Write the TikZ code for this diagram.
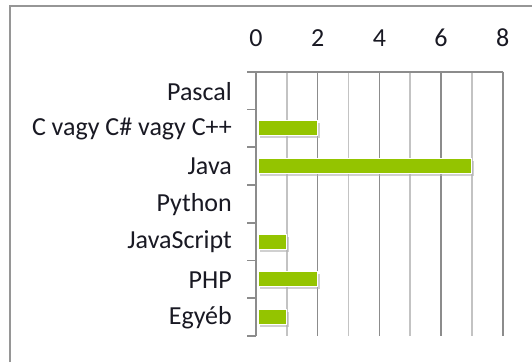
\documentclass[tikz,border=0pt]{standalone}
\usepackage{fontspec}
\setmainfont{Carlito}
\usetikzlibrary{shadows}
\definecolor{bargreen}{RGB}{148,196,0}
\definecolor{framegray}{RGB}{150,150,150}
\definecolor{majorgray}{RGB}{140,140,140}
\definecolor{minorgray}{RGB}{195,195,195}
\definecolor{txt}{RGB}{25,25,35}
\tikzset{
  catlabel/.style={anchor=east,inner sep=0pt,text=txt,font=\fontsize{26bp}{30bp}\selectfont},
  ticklabel/.style={anchor=center,inner sep=0pt,text=txt,font=\fontsize{26bp}{30bp}\selectfont},
  majorline/.style={draw=majorgray,line width=1.6bp},
  minorline/.style={draw=minorgray,line width=1.6bp},
  axisline/.style={draw=majorgray,line width=1.6bp},
  barbox/.style={fill=bargreen,draw=white,line width=1.2bp,
    drop shadow={shadow xshift=2bp,shadow yshift=-2.5bp,fill=black!30,opacity=0.6}},
}
\begin{document}
\begin{tikzpicture}[x=1bp,y=-1bp]
\useasboundingbox (0,0) rectangle (532,362);
\fill[white] (0,0) rectangle (532,362);
% frame (top and left)
\draw[framegray,line width=2.6bp] (10,362) -- (10,6) -- (532,6);
\def\xo{256}
\def\un{30.84}
\def\ytop{71.7}
\def\ybot{336}
\def\cs{37.76}
% gridlines
\foreach \k in {1,3,5,7}
  \draw[minorline] ({\xo+\k*\un},\ytop) -- ({\xo+\k*\un},\ybot);
\foreach \k in {2,4,6,8}
  \draw[majorline] ({\xo+\k*\un},\ytop) -- ({\xo+\k*\un},\ybot);
% axes
\draw[axisline] (247,\ytop) -- ({\xo+8*\un},\ytop);
\draw[axisline] (\xo,\ytop) -- (\xo,\ybot);
\foreach \i in {1,...,7}
  \draw[axisline] (247,{\ytop+\i*\cs}) -- (\xo,{\ytop+\i*\cs});
% tick labels
\foreach \k/\nm in {0/ta,2/tb,4/tc,6/td,8/te}
  \node[ticklabel] (\nm) at ({\xo+\k*\un},38) {\k};
% category labels
\foreach \i/\t/\nm in {0/Pascal/la,1/C vagy C\# vagy C++/lb,2/Java/lc,3/Python/ld,4/JavaScript/le,5/PHP/lf,6/Egyéb/lg}
  \node[catlabel] (\nm) at (232,{\ytop+(\i+0.5)*\cs+0.5}) {\t};
% bars
\foreach \i/\v in {1/2,2/7,4/1,5/2,6/1}
  \path[barbox] (258,{\ytop+(\i+0.5)*\cs-7.5}) rectangle ({\xo+\v*\un},{\ytop+(\i+0.5)*\cs+7.5});
\end{tikzpicture}
\end{document}
